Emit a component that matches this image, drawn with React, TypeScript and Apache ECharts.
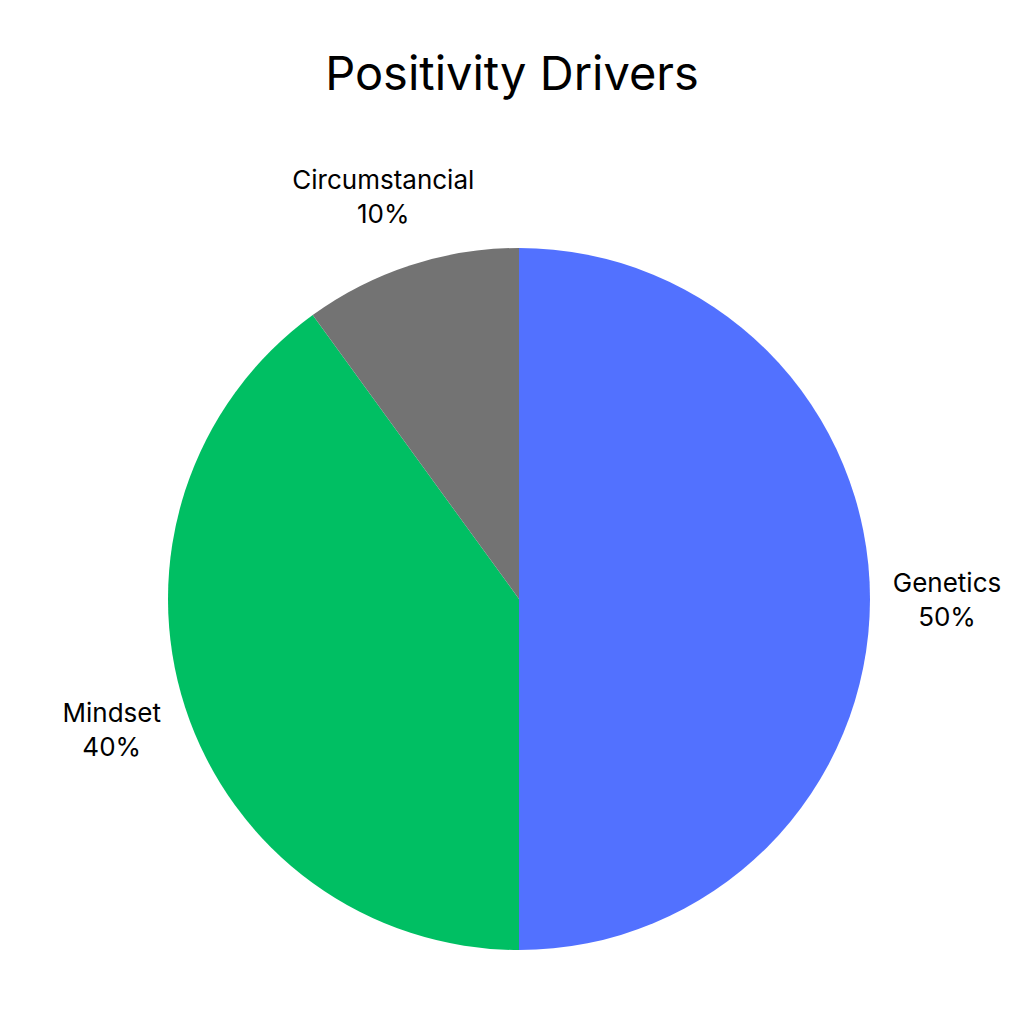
import React, { useEffect, useRef } from "react";
import * as echarts from "echarts";

const categories = ["Genetics", "Mindset", "Circumstancial"];
const values = [50, 40, 10];
const colors = ["#5271FF", "#00BF63", "#737373"];
const titleText = "Positivity Drivers";

const FONT = "Inter, 'Open Sans', sans-serif";

export default function App() {
  const ref = useRef<HTMLDivElement>(null);
  useEffect(() => {
    if (!ref.current) return;
    const chart = echarts.init(ref.current, undefined, { renderer: "svg" });
    chart.setOption({
      animation: false,
      backgroundColor: "#ffffff",
      title: {
        text: titleText,
        left: "center",
        top: 44,
        textStyle: { fontFamily: FONT, fontSize: 47, fontWeight: "normal", color: "#000000" },
      },
      series: [
        {
          type: "pie",
          center: [519, 599],
          radius: 351,
          startAngle: 90,
          clockwise: true,
          avoidLabelOverlap: false,
          data: categories.map((c, i) => ({ name: c, value: values[i], itemStyle: { color: colors[i] } })),
          itemStyle: { borderWidth: 0 },
          label: {
            show: true,
            position: "outside",
            width: 280,
            formatter: "{n|{b}}\n{n|{d}%}",
            rich: {
              n: { align: "center", fontFamily: FONT, fontSize: 26, lineHeight: 34, color: "#000000" },
            },
          },
          labelLine: { show: false, length: 72, length2: 0 },
          labelLayout: { align: "center" },
          emphasis: { disabled: true },
        },
      ],
    });
    return () => chart.dispose();
  }, []);
  return <div ref={ref} style={{ position: "fixed", left: 0, top: 0, width: 1024, height: 1024 }} />;
}
